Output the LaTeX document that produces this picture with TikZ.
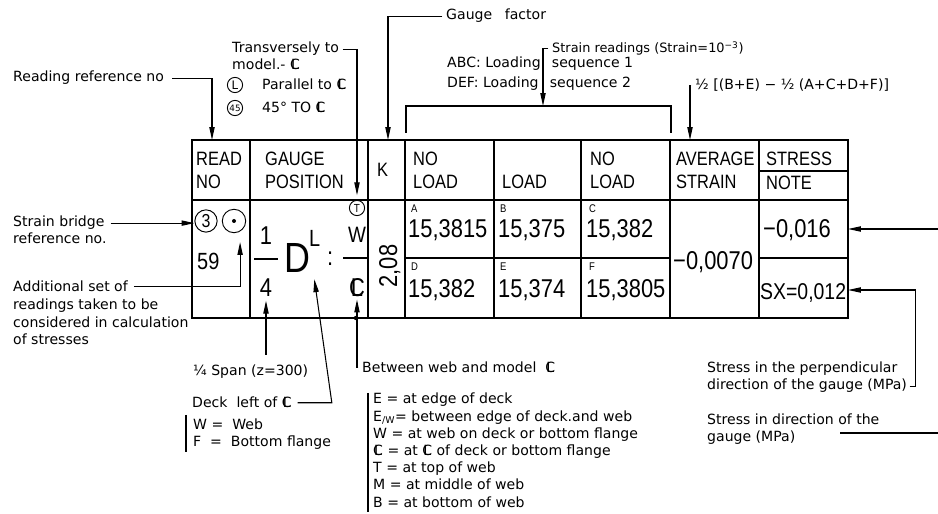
\documentclass[tikz,border=0pt]{standalone}
\usepackage{fontspec}
\setmainfont{DejaVu Sans}
\newfontfamily\tabfont[FakeStretch=0.85]{Liberation Sans}
\usetikzlibrary{arrows.meta,positioning,calc}
\newcommand{\centl}{\ooalign{C\cr\hidewidth L\hidewidth}}

\begin{document}
\begin{tikzpicture}[x=0.03cm, y=-0.03cm,
    lbl/.style={font=\fontsize{12}{14}\selectfont, inner sep=0pt, anchor=base west},
    hdr/.style={font=\tabfont\fontsize{16.5}{18}\selectfont, inner sep=0pt, anchor=base west},
    val/.style={font=\tabfont\fontsize{22}{24}\selectfont, inner sep=0pt, anchor=base west},
    tag/.style={font=\tabfont\fontsize{9.5}{10}\selectfont, inner sep=0pt, anchor=base west},
    ring/.style={circle, draw, line width=0.8pt, inner sep=0pt},
    arr/.style={-{Triangle[length=11pt,width=4.5pt]}, line width=0.9pt},
    lead/.style={line width=0.9pt}]

    \useasboundingbox (0,0) rectangle (938,514);
    \clip (0,0) rectangle (938,514);

    % Table frame
    \draw[line width=1.6pt] (192,140) rectangle (848,318);
    \draw[line width=1pt] (192,200) -- (848,200);
    \foreach \x in {250,368,405,494,581,670,759}
        \draw[line width=1pt] (\x,140) -- (\x,318);
    \draw[line width=1pt] (759,171) -- (848,171);
    \draw[line width=1pt] (405,258) -- (670,258);
    \draw[line width=1pt] (759,258) -- (848,258);

    % Headings
    \node[hdr] (h1a) at (196,166) {READ};
    \node[hdr] (h1b) at (196,189) {NO};
    \node[hdr] (h2a) at (265,166) {GAUGE};
    \node[hdr] (h2b) at (265,189) {POSITION};
    \node[hdr] (h3) at (377,177) {K};
    \node[hdr] (h4a) at (413,166) {NO};
    \node[hdr] (h4b) at (413,189) {LOAD};
    \node[hdr] (h5) at (502,189) {LOAD};
    \node[hdr] (h6a) at (590,166) {NO};
    \node[hdr] (h6b) at (590,189) {LOAD};
    \node[hdr] (h7a) at (676,166) {AVERAGE};
    \node[hdr] (h7b) at (676,189) {STRAIN};
    \node[hdr] (h8a) at (766,166) {STRESS};
    \node[hdr] (h8b) at (766,190) {NOTE};

    % Reading number
    \node[ring, minimum size=19pt, font=\tabfont\fontsize{16}{16}\selectfont] (br) at (206,221) {3};
    \node[ring, minimum size=20pt] (extra) at (234,221) {};
    \fill (extra.center) circle (2);
    \node[val, font=\tabfont\fontsize{20}{22}\selectfont] (rno) at (197,270) {59};

    % Gauge position
    \node[val, anchor=base] (qn) at (266,245) {1};
    \draw[line width=1pt] (254,259) -- (278,259);
    \node[val, anchor=base] (qd) at (266,297) {4};
    \node[val, font=\tabfont\fontsize{36}{36}\selectfont] (dk) at (284,273) {D};
    \node[val, font=\tabfont\fontsize{20}{20}\selectfont] (side) at (309,247) {L};
    \node[val] (colon) at (327,266) {:};
    \node[val, anchor=base, font=\tabfont\fontsize{19}{19}\selectfont] (wn) at (357,243) {W};
    \draw[line width=1pt] (343,258) -- (368,258);
    \node[val, anchor=base] (wd) at (357,297) {\centl};
    \node[ring, minimum size=13pt, font=\tabfont\fontsize{10}{10}\selectfont] (tc) at (357,208) {T};

    % Gauge factor
    \node[val, anchor=base, rotate=90] (kf) at (397,266) {2,08};

    % Readings
    \node[tag] (ta) at (411,213) {A};
    \node[tag] (tb) at (500,213) {B};
    \node[tag] (tcc) at (589,213) {C};
    \node[tag] (td) at (411,271) {D};
    \node[tag] (te) at (500,271) {E};
    \node[tag] (tf) at (589,271) {F};
    \node[val] (ra) at (408,238) {15,3815};
    \node[val] (rb) at (498,238) {15,375};
    \node[val] (rc) at (586,238) {15,382};
    \node[val] (rd) at (408,298) {15,382};
    \node[val] (re) at (498,298) {15,374};
    \node[val] (rf) at (586,298) {15,3805};

    % Strain and stress
    \node[val] (avg) at (673,270) {−0,0070};
    \node[val] (s1) at (763,238) {−0,016};
    \node[val, font=\tabfont\fontsize{19.5}{22}\selectfont] (s2) at (760,300) {SX=0,012};

    % Labels above
    \node[lbl] (rref) at (13,82) {Reading reference no};
    \node[lbl] (tr1) at (232,53) {Transversely to};
    \node[lbl, below=14.5pt of tr1.base west, anchor=base west] (tr2) {model.- \centl};
    \node[ring, minimum size=13pt, font=\fontsize{10}{10}\selectfont] (rl) at (235,85) {L};
    \node[lbl] (par) at (262,90) {Parallel to \centl};
    \node[ring, minimum size=13pt, font=\fontsize{7.5}{8}\selectfont] (r45) at (235,108) {45};
    \node[lbl] (deg) at (262,113) {45° TO \centl};
    \node[lbl] (gf) at (446,20) {Gauge\hspace{0.9em}factor};
    \node[lbl, font=\fontsize{11}{13}\selectfont] (sr) at (552,53) {Strain readings (Strain=10\textsuperscript{−3})};
    \node[lbl] (seq1) at (447,68) {ABC: Loading\hspace{0.8em}sequence 1};
    \node[lbl, below=17pt of seq1.base west, anchor=base west] (seq2) {DEF: Loading\hspace{0.8em}sequence 2};
    \node[lbl] (mean) at (695,90) {½ [(B+E) − ½ (A+C+D+F)]};

    % Labels left
    \node[lbl] (sb1) at (13,227) {Strain bridge};
    \node[lbl, below=14.5pt of sb1.base west, anchor=base west] (sb2) {reference no.};
    \node[lbl] (ad1) at (13,292) {Additional set of};
    \node[lbl, below=15pt of ad1.base west, anchor=base west] (ad2) {readings taken to be};
    \node[lbl, below=15pt of ad2.base west, anchor=base west] (ad3) {considered in calculation};
    \node[lbl, below=15pt of ad3.base west, anchor=base west] (ad4) {of stresses};

    % Labels below
    \node[lbl] (span) at (193,376) {¼ Span (z=300)};
    \node[lbl] (deck) at (192,408) {Deck\ \ left of \centl};
    \draw[lead] (186,415) -- (186,452);
    \node[lbl] (fw) at (193,430) {W =\ \ Web};
    \node[lbl, below=14.5pt of fw.base west, anchor=base west] (ff) {F\ \ =\ \ Bottom flange};
    \node[lbl] (betw) at (362,373) {Between web and model\ \ \centl};
    \draw[lead] (368,393) -- (368,512);
    \foreach \t [count=\i] in {{E = at edge of deck},
            {E\textsubscript{/W}= between edge of deck.and web},
            {W = at web on deck or bottom flange},
            {\centl\ = at \centl\ of deck or bottom flange},
            {T = at top of web},
            {M = at middle of web},
            {B = at bottom of web}}
        \node[lbl] (leg\i) at (373,{404+17.2*(\i-1)}) {\t};

    % Labels right
    \node[lbl] (perp1) at (707,373) {Stress in the perpendicular};
    \node[lbl, below=14.5pt of perp1.base west, anchor=base west] (perp2) {direction of the gauge (MPa)};
    \node[lbl] (dir1) at (707,425) {Stress in direction of the};
    \node[lbl, below=14.5pt of dir1.base west, anchor=base west] (dir2) {gauge (MPa)};

    % Connections
    \coordinate (readtop) at (212,140);
    \coordinate (ktop) at (388,140);
    \coordinate (brk) at (543,106);
    \coordinate (avgtop) at (690,140);
    \coordinate (s1cell) at (848,229);
    \coordinate (s2cell) at (848,290);
    \coordinate (dirend) at (840,433);
    \draw[arr, shorten <=7pt] (rref.east) -| (readtop);
    \draw[arr, shorten <=3pt, shorten >=4pt] (tr1.east) -| (tc.north);
    \draw[arr, shorten <=3pt] (gf.west) -| (ktop);
    \draw[lead] (406,133) -- (406,106) -- (671,106) -- (671,133);
    \draw[arr, shorten <=3pt] (sr.west) -| (brk);
    \draw[arr, shorten <=3pt] (mean.west) -| (avgtop);
    \draw[arr, shorten <=5pt] (sb1.east) -- (sb1.east -| br.west);
    \draw[arr, shorten <=5pt, shorten >=9pt] (ad1.east) -| (extra.-60);
    \draw[arr, shorten <=9pt, shorten >=3pt] (span.north -| qd.south) -- (qd.south);
    \draw[arr, shorten <=5pt] (deck.east) -- ++(40,0) -- ([shift={(4,6)}]dk.south east);
    \draw[arr, shorten <=3pt, shorten >=2pt] (betw.west) -| (wd.south);
    \fill (356,318) circle (2.2);
    \draw[arr, shorten <=2pt] (perp2.east) -- ++(8,0) |- (s2cell);
    \draw[arr] (dirend) -- (952,433) |- (s1cell);
\end{tikzpicture}
\end{document}
